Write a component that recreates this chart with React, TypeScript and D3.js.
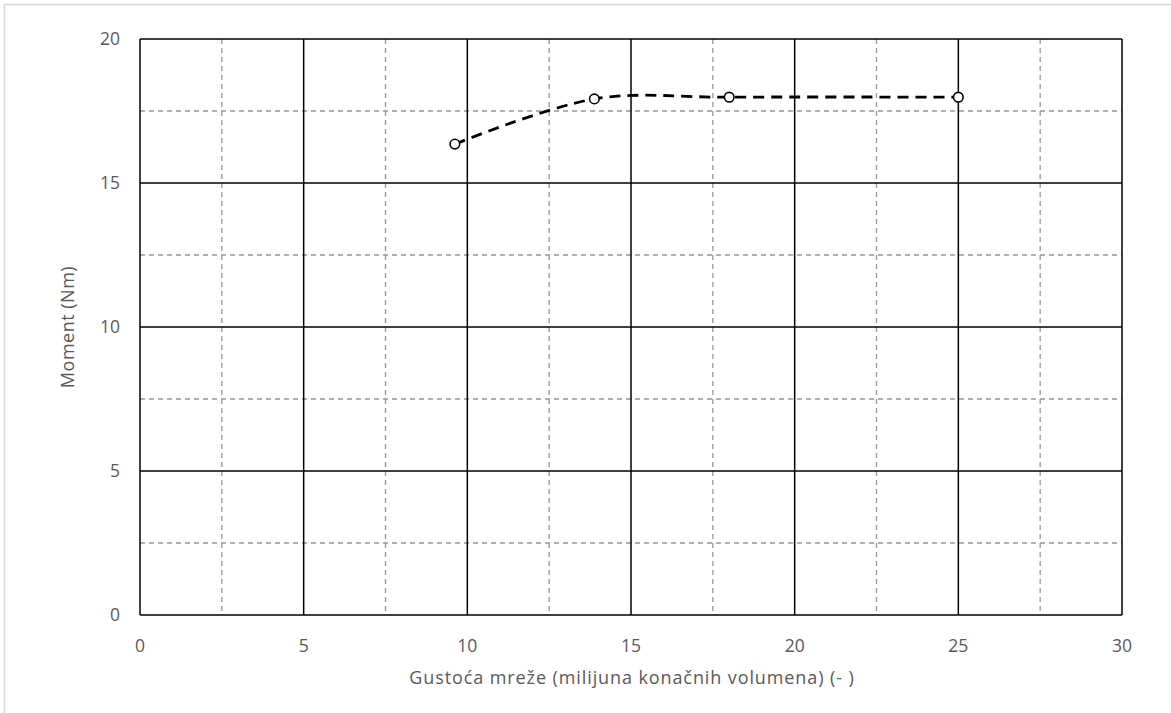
import React from "react";
import * as d3 from "d3";

const xValues = [9.62, 13.88, 18.0, 25.0];
const yValues = [16.35, 17.92, 17.98, 17.98];
const xTicks = [0, 5, 10, 15, 20, 25, 30];
const yTicks = [0, 5, 10, 15, 20];
const xMinor = [2.5, 7.5, 12.5, 17.5, 22.5, 27.5];
const yMinor = [2.5, 7.5, 12.5, 17.5];
const xTitle = "Gustoća mreže (milijuna konačnih volumena) (- )";
const yTitle = "Moment (Nm)";

export default function App() {
  const W = 1171, H = 713;
  const left = 140, right = 1122, top = 39, bottom = 615;
  const x = d3.scaleLinear().domain([0, 30]).range([left, right]);
  const y = d3.scaleLinear().domain([0, 20]).range([bottom, top]);
  const pts: [number, number][] = xValues.map((v, i) => [v, yValues[i]]);
  const line = d3.line<[number, number]>().x(d => x(d[0])).y(d => y(d[1])).curve(d3.curveCatmullRom.alpha(0.5));
  const font = "'Open Sans', sans-serif";
  const tc = "#595959";
  return (
    <svg width={W} height={H} style={{ position: "fixed", left: 0, top: 0 }} fontFamily={font}>
      <rect x={0} y={0} width={W} height={H} fill="#fff" />
      <rect x={4.5} y={4.5} width={W + 10} height={H + 10} fill="none" stroke="#d9d9d9" strokeWidth={1.5} />
      {xMinor.map(v => (
        <line key={"xm" + v} x1={x(v)} x2={x(v)} y1={top} y2={bottom} stroke="#969696" strokeWidth={1.3} strokeDasharray="5,4" />
      ))}
      {yMinor.map(v => (
        <line key={"ym" + v} x1={left} x2={right} y1={y(v)} y2={y(v)} stroke="#969696" strokeWidth={1.3} strokeDasharray="5,4" />
      ))}
      {xTicks.map(v => (
        <line key={"xM" + v} x1={x(v)} x2={x(v)} y1={top} y2={bottom} stroke="#000" strokeWidth={1.5} />
      ))}
      {yTicks.map(v => (
        <line key={"yM" + v} x1={left} x2={right} y1={y(v)} y2={y(v)} stroke="#000" strokeWidth={1.5} />
      ))}
      <path d={line(pts) || ""} fill="none" stroke="#000" strokeWidth={2.8} strokeDasharray="11,7" />
      {pts.map((p, i) => (
        <circle key={i} cx={x(p[0])} cy={y(p[1])} r={4.8} fill="#fff" stroke="#000" strokeWidth={1.6} />
      ))}
      {xTicks.map(v => (
        <text key={"xl" + v} x={x(v)} y={652} textAnchor="middle" fontSize={17.5} fill={tc}>{v}</text>
      ))}
      {yTicks.map(v => (
        <text key={"yl" + v} x={120} y={y(v) + 6} textAnchor="end" fontSize={17.5} fill={tc}>{v}</text>
      ))}
      <text x={632} y={684} textAnchor="middle" fontSize={18} letterSpacing={0.9} fill={tc}>{xTitle}</text>
      <text transform={`translate(74,${(top + bottom) / 2}) rotate(-90)`} textAnchor="middle" fontSize={18} letterSpacing={0.5} fill={tc}>{yTitle}</text>
    </svg>
  );
}
